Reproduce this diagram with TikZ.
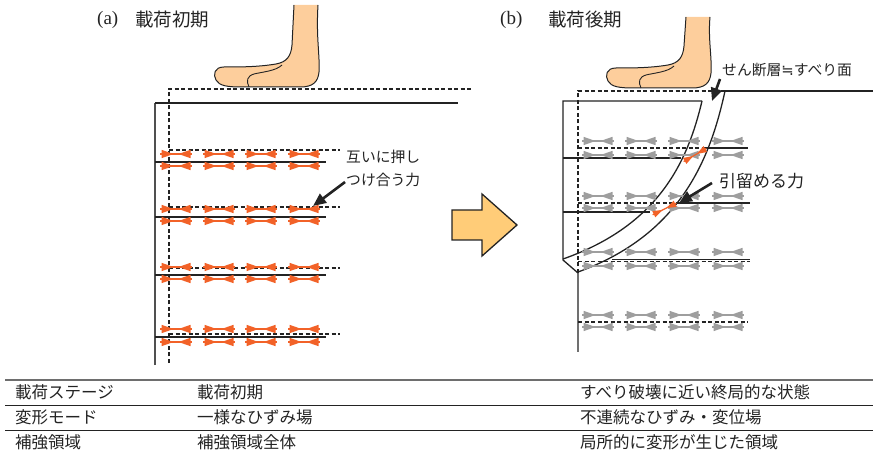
\documentclass[tikz,border=0pt]{standalone}
\usepackage{fontspec}
\setmainfont{Liberation Serif}
\newfontfamily\jp{Noto Sans CJK JP}
\newfontfamily\symfont{DejaVu Sans}
\usetikzlibrary{arrows.meta}

\definecolor{ink}{RGB}{35,35,35}
\definecolor{wall}{RGB}{80,80,80}
\definecolor{bowred}{RGB}{242,98,40}
\definecolor{bowgray}{RGB}{158,158,158}
\definecolor{skin}{RGB}{253,206,156}
\definecolor{blockfill}{RGB}{255,204,120}
\definecolor{rule}{RGB}{110,110,110}

\tikzset{
  solidline/.style={draw=ink, line width=1.3pt},
  dashline/.style={draw=ink, line width=1.2pt, dash pattern=on 4pt off 2.5pt},
  callout/.style={draw=ink, line width=2.6pt, -{Triangle[length=13pt,width=11pt]}},
  label/.style={font=\jp\fontsize{14.8}{23}\selectfont, text=ink, inner sep=0pt, anchor=west, align=left},
  title/.style={font=\jp\fontsize{18.5}{20}\selectfont, text=ink, inner sep=0pt, anchor=west},
  tag/.style={font=\fontsize{19}{20}\selectfont, text=ink, inner sep=0pt, anchor=west},
  cell/.style={font=\jp\fontsize{16.5}{18}\selectfont, text=ink, inner sep=0pt, anchor=west},
  pics/bow/.style={code={
    \draw[line width=1.2pt] (-16,0) -- (16,0);
    \fill (-14.5,-4.2) -- (-2.5,0) -- (-14.5,4.2) -- cycle;
    \fill (14.5,-4.2) -- (2.5,0) -- (14.5,4.2) -- cycle;
  }},
  pics/foot/.style={code={
    \fill[skin] (294,#1) -- (292,45) .. controls (291,56) and (287,62) .. (276,64)
      .. controls (258,67) and (240,67) .. (224,67) .. controls (214,67) and (213,75) .. (216,80)
      .. controls (219,86) and (228,87) .. (242,87) -- (300,87)
      .. controls (313,87) and (318,82) .. (319,72) .. controls (320,55) and (316,38) .. (318,#1) -- cycle;
    \draw[ink, line width=1pt] (294,#1) -- (292,45) .. controls (291,56) and (287,62) .. (276,64)
      .. controls (258,67) and (240,67) .. (224,67) .. controls (214,67) and (213,75) .. (216,80)
      .. controls (219,86) and (228,87) .. (242,87) -- (300,87)
      .. controls (313,87) and (318,82) .. (319,72) .. controls (320,55) and (316,38) .. (318,#1);
    \draw[ink, line width=0.9pt] (282,65) .. controls (276,71) and (262,72) .. (254,74)
      .. controls (247,76) and (246,81) .. (249,87);
  }},
}

\begin{document}
\begin{tikzpicture}[x=1pt, y=-1pt]
\useasboundingbox (0,0) rectangle (873,454);

% ---------- (a) early loading ----------
\node[tag]   (tagA)   at (97,20)  {(a)};
\node[title] (titleA) at (135,20) {載荷初期};
\pic at (0,0) {foot=5};

% initial (dashed) and current (solid) outlines
\draw[dashline] (169,363) -- (169,89) -- (473,89);
\draw[draw=wall, line width=1.8pt] (155,365) -- (155,103);
\draw[solidline] (155,103) -- (458,103);
\foreach \y in {150,207,268,334} \draw[dashline] (169,\y) -- (340,\y);
\foreach \y in {162,217,275,337} \draw[solidline] (155,\y) -- (326,\y);

% mutual pressing forces along the reinforcement
\foreach \ya/\yb in {154/166, 209/221, 267/279, 329/342}
  \foreach \x in {176,219,261,304} {
    \pic[bowred] at (\x,\ya) {bow};
    \pic[bowred] at (\x,\yb) {bow};
  }

\node[label] (pressA) at (346,168) {互いに押し\\つけ合う力};
\coordinate (pressTail) at (345,182);
\coordinate (pressTip) at (313,206);
\draw[callout] (pressTail) -- (pressTip);

% ---------- transition arrow ----------
\draw[draw=ink, line width=1.3pt, fill=blockfill, line join=miter]
  (452,210) -- (482,210) -- (482,194) -- (517,225) -- (482,256) -- (482,240) -- (452,240) -- cycle;

% ---------- (b) late loading ----------
\node[tag]   (tagB)   at (500,20)  {(b)};
\node[title] (titleB) at (548,20)  {載荷後期};
\pic at (392,1) {foot=16};

\draw[dashline] (578,273) -- (578,91) -- (725,91);
\draw[solidline] (725,91) -- (873,91);
\draw[solidline] (702,101) -- (563,101) -- (563,260) -- (578,273) -- (578,352);
% shear band (slip surface)
\draw[solidline] (702,101) .. controls (688,160) and (660,225) .. (563,259);
\draw[solidline] (725,91) .. controls (710,160) and (680,235) .. (578,272);

% reinforcement layers: initial (dashed) and displaced (solid)
\draw[dashline] (578,148) -- (748,148);
\draw[solidline] (704,148) -- (748,148);
\draw[solidline] (563,158) -- (681,158);
\draw[dashline] (578,203) -- (750,203);
\draw[solidline] (679,203) -- (750,203);
\draw[solidline] (563,212) -- (650,212);
\draw[dashline] (578,261.5) -- (750,261.5);
\draw[solidline] (612,259.5) -- (750,259.5);
\draw[dashline] (578,322) -- (748,322);

\foreach \ya/\yb in {141/155, 196/208, 252/266, 315/327}
  \foreach \x in {598,641,684,728} {
    \pic[bowgray] at (\x,\ya) {bow};
    \pic[bowgray] at (\x,\yb) {bow};
  }

% restraining forces across the shear band
\pic[bowred, rotate=30, scale=0.82] at (695,155) {bow};
\pic[bowred, rotate=26, scale=0.82] at (664.5,209) {bow};

\node[label] (slipLbl) at (722,70) {せん断層{\symfont ≒}すべり面};
\coordinate (slipTail) at (720,79);
\coordinate (slipTip) at (712,101);
\draw[callout] (slipTail) -- (slipTip);

\node[label, font=\jp\fontsize{17}{18}\selectfont] (holdLbl) at (719,181) {引留める力};
\coordinate (holdTail) at (712,183);
\coordinate (holdTip) at (679,203);
\draw[callout] (holdTail) -- (holdTip);

% ---------- summary table ----------
\draw[draw=rule, line width=2pt] (5,380) -- (873,380);
\draw[draw=ink, line width=0.9pt] (5,405) -- (873,405);
\draw[draw=ink, line width=0.9pt] (5,430) -- (873,430);

\node[cell] (r1c1) at (15,392)  {載荷ステージ};
\node[cell] (r1c2) at (197,392) {載荷初期};
\node[cell] (r1c3) at (580,392) {すべり破壊に近い終局的な状態};
\node[cell] (r2c1) at (15,417)  {変形モード};
\node[cell] (r2c2) at (197,417) {一様なひずみ場};
\node[cell] (r2c3) at (580,417) {不連続なひずみ・変位場};
\node[cell] (r3c1) at (15,442)  {補強領域};
\node[cell] (r3c2) at (197,442) {補強領域全体};
\node[cell] (r3c3) at (580,442) {局所的に変形が生じた領域};
\end{tikzpicture}
\end{document}
